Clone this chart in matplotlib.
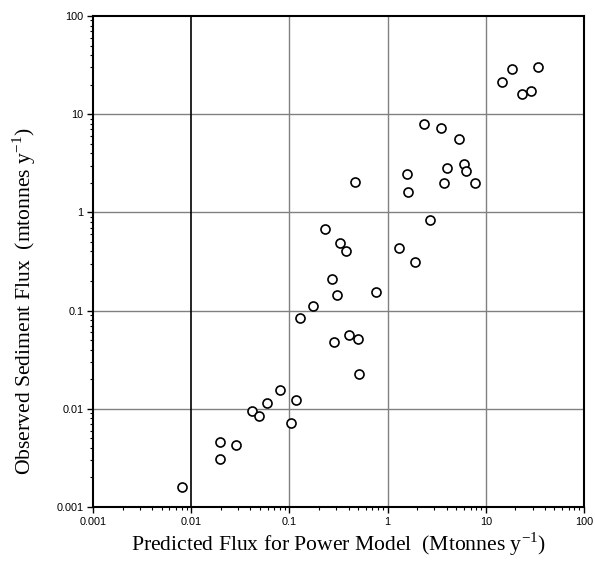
import matplotlib
matplotlib.use("Agg")
import matplotlib.pyplot as plt
from matplotlib.ticker import LogLocator, FuncFormatter, NullFormatter

# predicted flux (power model) vs observed flux
predicted = [0.0080, 0.0196, 0.0195, 0.0288, 0.0416, 0.0487, 0.0596, 0.080, 0.117, 0.105,
             0.231, 0.33, 0.374, 1.31, 0.272, 0.305, 0.757, 0.175, 0.129, 0.407,
             0.503, 0.286, 0.515, 0.469,
             2.35, 3.5, 5.33, 1.56, 4.0, 5.96, 6.33, 1.61, 3.75, 7.71, 2.68, 1.92,
             18.4, 34.0, 14.5, 23.4, 28.8]
observed = [0.00158, 0.00459, 0.0031, 0.00425, 0.0095, 0.0085, 0.0114, 0.0156, 0.0124, 0.0071,
            0.678, 0.49, 0.407, 0.434, 0.21, 0.143, 0.155, 0.111, 0.0847, 0.0565,
            0.0517, 0.0482, 0.0226, 2.03,
            7.9, 7.18, 5.63, 2.44, 2.81, 3.11, 2.64, 1.6, 1.99, 1.99, 0.83, 0.31,
            28.7, 30.5, 21.3, 16.1, 17.3]

fig = plt.figure(figsize=(5.95, 5.65), dpi=100)
ax = fig.add_axes([0.1563, 0.1027, 0.8252, 0.869])

ax.set_xscale('log')
ax.set_yscale('log')
ax.set_xlim(0.001, 100)
ax.set_ylim(0.001, 100)

# grid lines at each decade; the 0.01 x line is drawn black in the original
for v in [0.01, 0.1, 1, 10]:
    ax.axhline(v, color='#808080', lw=1.0, zorder=1)
for v in [0.1, 1, 10]:
    ax.axvline(v, color='#808080', lw=1.0, zorder=1)
ax.axvline(0.01, color='black', lw=1.2, zorder=1)

ax.plot(predicted, observed, 'o', mfc='white', mec='black', ms=6.5, mew=1.2,
        linestyle='none', zorder=3)

fmt = FuncFormatter(lambda v, p: '{:g}'.format(v))
for axis in (ax.xaxis, ax.yaxis):
    axis.set_major_locator(LogLocator(base=10))
    axis.set_minor_locator(LogLocator(base=10, subs=range(2, 10)))
    axis.set_major_formatter(fmt)
    axis.set_minor_formatter(NullFormatter())

ax.tick_params(which='major', direction='out', length=4, width=1, labelsize=7.8,
               top=False, right=False, pad=3)
ax.tick_params(which='minor', direction='out', length=2.5, width=0.8,
               top=False, right=False)
for lab in ax.get_xticklabels() + ax.get_yticklabels():
    lab.set_family('Liberation Sans')

for s in ax.spines.values():
    s.set_linewidth(1.5)

label_font = dict(family='Liberation Serif', size=15.6)
ax.set_xlabel(r'Predicted Flux for Power Model  (Mtonnes y$^{\mathregular{-1}}$)',
              labelpad=3, **label_font)
ax.set_ylabel(r'Observed Sediment Flux  (mtonnes y$^{\mathregular{-1}}$)',
              labelpad=13, **label_font)
# the y label sits a bit below the middle of the axis in the original
ax.yaxis.label.set_y(0.42)

fig.savefig('out.png', dpi=100)
